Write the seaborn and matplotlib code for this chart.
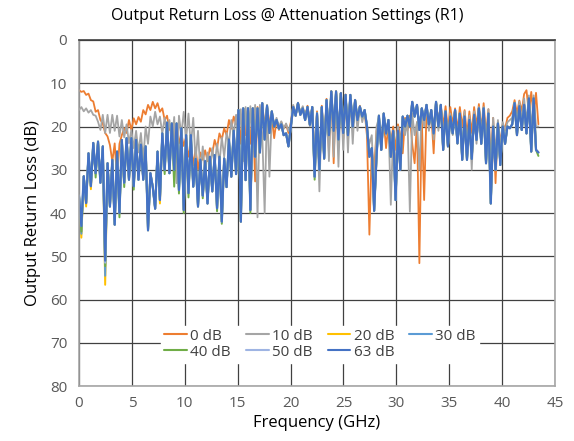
import numpy as np
import pandas as pd
import seaborn as sns
import matplotlib.pyplot as plt

# frequency sweep: one point every 0.225 GHz, starting at 0
freq_step = 0.225

# Output return loss (dB), one value per frequency point
att_0db = [11.6, 12.0, 11.8, 12.7, 12.4, 13.9, 14.2, 16.6, 16.2, 18.5,
           19.3, 21.5, 22.3, 24.3, 28.1, 23.9, 32.4, 24, 22, 20.4,
           21.5, 18.5, 20.8, 18.1, 19.5, 17.8, 18.9, 16.2, 17.2, 15,
           16.2, 14.3, 15.8, 14.6, 16.6, 15.8, 18.5, 17.5, 20.8, 19.5,
           22.3, 20.8, 23.9, 21.5, 24.5, 22.5, 27, 24.3, 29, 25,
           30, 26, 27.7, 25.5, 28, 25, 26.2, 23.1, 25, 21.6,
           23, 20.4, 22, 18.5, 20.5, 17.7, 19.5, 16.2, 24, 15.8,
           22, 15.8, 24, 15.8, 32.7, 15.5, 22, 14.8, 20, 15.5,
           19, 18, 22.7, 18.5, 20.8, 19, 20.5, 19.5, 21.5, 19,
           15.2, 17.5, 14.5, 17, 15.5, 18, 15.2, 19, 15.5, 28,
           16.5, 30, 15.2, 25, 13.6, 26, 11.8, 28.5, 11.8, 24,
           12.2, 23, 12.6, 22, 12.8, 20, 13.8, 19, 15.2, 18,
           16.5, 22.3, 45, 25, 30, 21, 19, 23, 18.5, 25,
           19.5, 24, 20, 25.4, 19.5, 22, 26.2, 18, 21, 17.5,
           24, 28.5, 19, 51.6, 18, 37, 16.5, 20, 17, 26.2,
           14.5, 19, 15, 20, 15.3, 21, 15.5, 19.5, 15.8, 21,
           15.5, 20, 16.2, 22, 16.5, 21.5, 15.5, 20, 14.8, 21,
           14.6, 22, 16, 28, 18, 33.1, 19, 24, 19.5, 20.5,
           18, 17.5, 16.5, 13.9, 17, 14, 16.5, 12.5, 11.6, 17,
           12, 18, 12.2, 19.5]

att_10db = [16.2, 15.5, 16.5, 15.8, 16.8, 16.2, 17.3, 17.5, 18.9, 20.8,
            17.3, 21.5, 17.3, 21.5, 17.3, 21, 17.5, 22.3, 18.5, 22.5,
            19.5, 23.9, 20.8, 25, 21, 26, 21.5, 27.7, 20, 24,
            17.7, 20, 16.6, 19.5, 17.7, 21.6, 18, 22, 18.5, 24,
            17.8, 33.1, 17.5, 22, 16.6, 23, 17, 24.5, 18, 28,
            21, 30.5, 24.6, 31, 26, 30, 25, 29, 24, 28.5,
            22.5, 27, 21.5, 24, 18.5, 22, 17.3, 23, 16, 28,
            15.5, 24, 15.3, 27, 15, 41, 15, 22, 40, 15,
            31.6, 17, 19.7, 18, 20, 18.8, 20.5, 19.3, 21, 19.5,
            15, 17.5, 14.5, 17, 15.3, 18, 15.5, 20, 16, 30,
            16.8, 35, 15.5, 27.5, 14, 28, 12, 27, 12, 29.3,
            12.4, 25.4, 12.8, 26, 13, 24, 14, 21, 15.5, 19,
            16.5, 21, 24, 22, 36, 20, 18, 24, 17.5, 22,
            19, 38.1, 21, 30, 20, 24, 18, 22, 18, 39.7,
            17, 22, 19, 30, 16, 20, 15.5, 21, 16.5, 23,
            15, 21, 15.5, 24, 16.5, 23, 17, 22, 16.5, 24,
            17, 25, 16.5, 27, 17.5, 30, 16.5, 24, 15.5, 23,
            15.5, 26, 16, 30, 18, 26, 18.5, 25, 19, 21,
            19, 18.5, 18, 14.5, 20, 14.2, 18.5, 13.5, 19, 12.8,
            21, 12.8, 20, 20]

att_63db = [36, 43, 31.5, 37.7, 26.2, 33.8, 23.8, 30.8, 23.5, 33,
            24.6, 51, 28.5, 38.5, 27.7, 42.7, 25.8, 40, 23.1, 33,
            22.7, 32.3, 22.7, 33.8, 23.1, 32.3, 24.2, 32.3, 24.6, 44,
            30.8, 34, 39, 25.8, 37, 21.6, 30, 19.1, 30.8, 19.3,
            30, 19.3, 34.7, 20.4, 39.3, 22, 35.4, 22, 33.9, 27.5,
            38.5, 27.7, 36, 28, 37.8, 27, 35, 26.6, 38.9, 27,
            42, 27.4, 34, 23, 31.6, 21, 31, 16.2, 42, 15.8,
            32.4, 15.8, 39.3, 15.8, 27, 15.8, 26, 14.6, 23, 15.2,
            21.5, 16.5, 20, 18.5, 20.5, 19.5, 22, 21.6, 24.6, 20,
            15.5, 17.5, 14.6, 17.3, 15.8, 18.5, 15.5, 19.6, 15.5, 31.6,
            17, 30, 15.5, 27.4, 13.9, 22, 11.9, 21, 11.9, 23,
            12.3, 21.5, 12.7, 22, 12.7, 20, 13.9, 18.5, 15.4, 17.7,
            16.2, 20, 27, 25, 39.5, 27, 17.5, 25.4, 17, 21.6,
            18.5, 27, 21, 37, 21, 30, 17.7, 20, 17.5, 20,
            14.3, 17.7, 15, 20.8, 15.8, 18.5, 15, 19.5, 16.2, 21.6,
            14.3, 20, 15, 25.4, 16.5, 24.6, 17.7, 21.6, 16.2, 23.9,
            17, 27.7, 17.7, 27.7, 18.5, 27.5, 17.3, 23.1, 15.8, 24,
            15.8, 28.5, 17, 37.8, 20, 30, 19.3, 28.9, 20, 24,
            20, 20.4, 19.5, 14.6, 22, 15.3, 20.8, 15, 21.6, 13.5,
            25.8, 13.5, 25.4, 26]

# 20..50 dB traces sit under the 63 dB trace; only their trough tips show
tips_20db = {1: 45.7, 3: 38.5, 5: 34.5, 11: 56.6, 34: 37.8}
tips_30db = {1: 44.8, 11: 54.5}
tips_40db = {1: 44.3, 7: 31.8, 11: 52.3, 17: 41, 19: 34, 23: 34.6, 36: 31,
             40: 33.9, 42: 35.5, 44: 40, 46: 36.4, 52: 36.6, 58: 39.6,
             60: 42.5, 72: 40, 99: 32.3, 193: 26.8}
tips_50db = {11: 51.5}

labels = ['0 dB', '10 dB', '20 dB', '30 dB', '40 dB', '50 dB', '63 dB']
colors = ['#ED7D31', '#A5A5A5', '#FFC000', '#5B9BD5', '#70AD47', '#9EB4E3', '#4472C4']
widths = [1.3, 1.3, 1.4, 1.4, 1.4, 1.4, 1.6]


def with_tips(base, tips):
    vals = list(base)
    for i, v in tips.items():
        vals[i] = v
    return vals


series = [att_0db, att_10db,
          with_tips(att_63db, tips_20db),
          with_tips(att_63db, tips_30db),
          with_tips(att_63db, tips_40db),
          with_tips(att_63db, tips_50db),
          att_63db]
freq = np.arange(len(att_63db)) * freq_step

sns.set_theme(style='white')
plt.rcParams['font.family'] = ['Open Sans', 'DejaVu Sans']

fig, ax = plt.subplots(figsize=(5.74, 4.41), dpi=100)
fig.subplots_adjust(left=0.1376, right=0.967, top=0.9093, bottom=0.1247)

handles = []
for lab, col, lw, vals in zip(labels, colors, widths, series):
    sns.lineplot(x=freq, y=vals, color=col, linewidth=lw, ax=ax,
                 estimator=None, sort=False, label=lab)
    handles.append(ax.get_lines()[-1])

ax.set_xlim(0, 45)
ax.set_ylim(80, 0)
ax.set_xticks(range(0, 46, 5))
ax.set_yticks(range(0, 81, 10))
ax.grid(True, color='#404040', linewidth=0.9)
ax.set_axisbelow(True)
for side in ['left', 'bottom', 'right', 'top']:
    ax.spines[side].set_color('#A6A6A6')
    ax.spines[side].set_linewidth(1.2)
ax.spines['top'].set_color('#404040')
ax.tick_params(axis='both', labelsize=11, labelcolor='#595959', colors='#A6A6A6',
               length=5, width=1, direction='out')
ax.tick_params(axis='x', direction='inout', length=7)
for t in ax.get_xticklabels() + ax.get_yticklabels():
    t.set_color('#595959')

ax.set_xlabel('Frequency (GHz)', fontsize=12, color='black', labelpad=3)
ax.set_ylabel('Output Return Loss (dB)', fontsize=12, color='black', labelpad=6)
fig.text(0.5, 1 - 16 / 441, 'Output Return Loss @ Attenuation Settings (R1)',
         ha='center', va='center', fontsize=11.5, color='black')

# legend: Excel style, row-major order in 4 columns
order = [0, 4, 1, 5, 2, 6, 3]
leg = ax.legend([handles[i] for i in order], [labels[i] for i in order],
                loc='center', bbox_to_anchor=(0.506, 0.121), ncol=4,
                fontsize=11, frameon=True, fancybox=False, framealpha=1,
                facecolor='white', edgecolor='white', handlelength=1.5,
                handletextpad=0.2, columnspacing=1.0, borderpad=0.2,
                labelspacing=0.05)
for t in leg.get_texts():
    t.set_color('#404040')
for h in leg.get_lines():
    h.set_linewidth(1.5)

plt.savefig('out.png', dpi=100)
